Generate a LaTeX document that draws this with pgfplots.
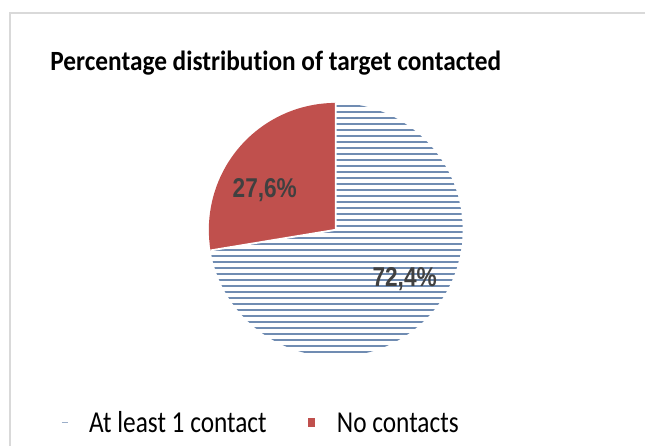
\documentclass[border=0pt]{standalone}
\usepackage{fontspec}
\setmainfont{Carlito}[Ligatures=NoCommon]
\newfontfamily\arialfont{Liberation Sans}
\usepackage{pgfplots}
\pgfplotsset{compat=1.18}
\usepackage{pgfplotstable}

\definecolor{pieRed}{RGB}{192,80,77}
\definecolor{pieBlue}{RGB}{112,140,178}
\definecolor{lblGray}{RGB}{64,64,64}
\definecolor{frameGray}{RGB}{217,217,217}

% share of targets, in percent
\pgfplotstableread{
label share
{At least 1 contact} 72.4
{No contacts} 27.6
}\piedata

\begin{document}
\begin{tikzpicture}
\pgfplotstablegetelem{0}{share}\of\piedata \let\shareA\pgfplotsretval
\pgfplotstablegetelem{1}{share}\of\piedata \let\shareB\pgfplotsretval
\pgfmathsetmacro{\angB}{90+3.6*\shareB}
\def\rad{95.25pt}
\begin{axis}[
    hide axis, scale only axis, clip=false,
    x=0.75pt, y=0.75pt,
    xmin=0, xmax=646, ymin=0, ymax=446,
]
\path (axis cs:0,0) rectangle (axis cs:646,446);
% chart frame
\draw[frameGray, line width=0.8pt] (axis cs:10,0) -- (axis cs:10,433) -- (axis cs:646,433);

% title
\node[font=\bfseries\fontsize{19}{22}\selectfont, anchor=base, yscale=1.1]
    at (axis cs:276,375) {Percentage distribution of target contacted};

% slice 1: at least one contact, white with horizontal rules
\begin{scope}
\clip (axis cs:336,216) -- ++(\angB:\rad)
    arc[start angle=\angB, end angle=450, radius=\rad] -- cycle;
\pgfplotsinvokeforeach{88,94,...,346}{
    \draw[pieBlue, line width=1.3pt] (axis cs:190,#1) -- (axis cs:480,#1);
}
\end{scope}
% slice 2: no contacts
\fill[pieRed] (axis cs:336,216) -- ++(90:\rad)
    arc[start angle=90, end angle=\angB, radius=\rad] -- cycle;
\draw[white, line width=1.4pt] (axis cs:336,216) -- ++(90:\rad)
    (axis cs:336,216) -- ++(\angB:\rad);

% data labels
\pgfkeys{/pgf/number format/.cd, fixed, precision=1, use comma, assume math mode=true}
\node[font=\arialfont\bfseries\fontsize{17}{20}\selectfont, text=lblGray, anchor=base, yscale=1.2]
    at (axis cs:265,248) {\pgfmathprintnumber{\shareB}\%};
\node[font=\arialfont\bfseries\fontsize{17}{20}\selectfont, text=lblGray, anchor=base, yscale=1.2]
    at (axis cs:405,159) {\pgfmathprintnumber{\shareA}\%};

% legend
\draw[pieBlue!70, line width=1pt] (axis cs:62,23) -- (axis cs:68,23);
\fill[pieRed] (axis cs:308.5,19) rectangle (axis cs:315.5,28);
\node[font=\fontsize{19}{22}\selectfont, anchor=base west, inner sep=0pt, yscale=1.2]
    at (axis cs:89,13) {At least 1 contact};
\node[font=\fontsize{19}{22}\selectfont, anchor=base west, inner sep=0pt, yscale=1.2]
    at (axis cs:337,13) {No contacts};
\end{axis}
\end{tikzpicture}
\end{document}
